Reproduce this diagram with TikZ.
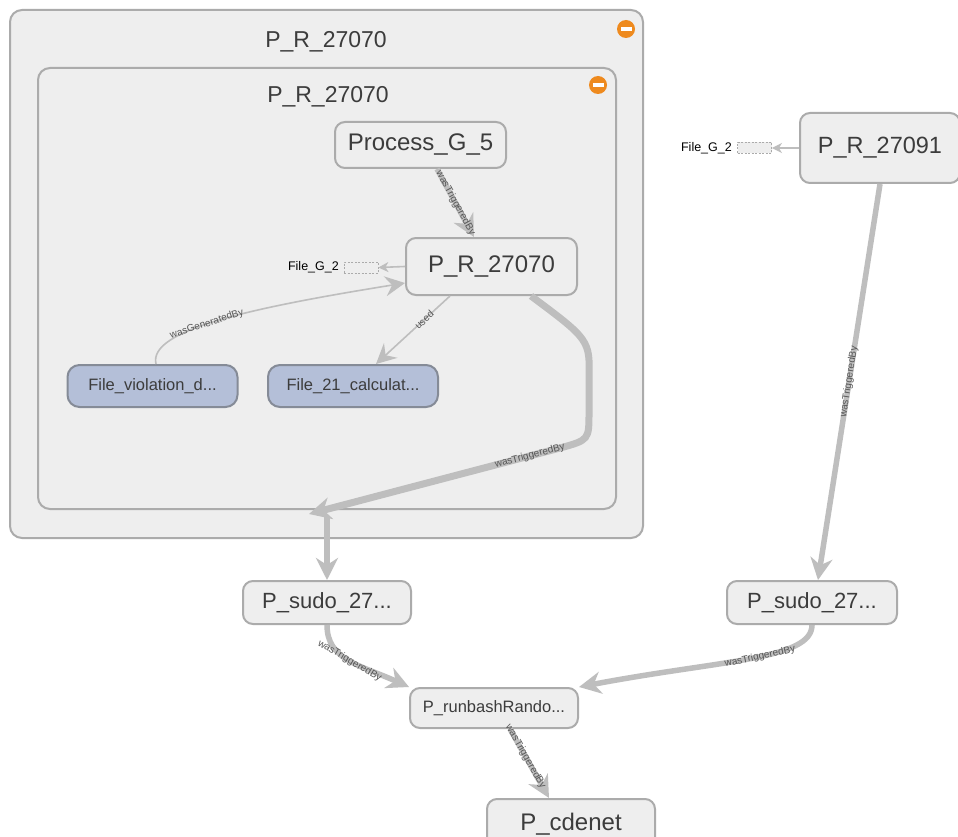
\documentclass[tikz,border=0pt]{standalone}
\usepackage{fontspec}
\setmainfont{Liberation Sans}
\usetikzlibrary{arrows.meta}
\definecolor{boxfill}{HTML}{EEEEEE}
\definecolor{boxline}{HTML}{ABABAB}
\definecolor{edgegray}{HTML}{BEBEBE}
\definecolor{filefill}{HTML}{B4BFD8}
\definecolor{fileline}{HTML}{858B97}
\definecolor{iconorange}{HTML}{EE8A1E}
\definecolor{labelgray}{HTML}{555555}
\definecolor{textgray}{HTML}{3C3C3C}

\tikzset{
  cluster/.style={draw=boxline, line width=2pt, fill=boxfill, rounded corners=12pt, inner sep=0pt},
  proc/.style={draw=boxline, line width=2pt, fill=boxfill, rounded corners=10pt, inner sep=0pt,
    text=textgray},
  filenode/.style={draw=fileline, line width=2pt, fill=filefill, rounded corners=12pt, inner sep=0pt,
    minimum width=170pt, minimum height=42pt, text=textgray, font=\fontsize{16.5}{18}\selectfont},
  ghost/.style={draw=boxline, dash pattern=on 2pt off 1.5pt, line width=0.8pt, fill=boxfill,
    minimum width=34pt, minimum height=11pt, inner sep=0pt},
  smalltext/.style={font=\fontsize{12.5}{14}\selectfont, text=black, inner sep=0pt},
  collapse/.style={circle, fill=iconorange, minimum size=18pt, inner sep=0pt},
  thick edge/.style={draw=edgegray, line width=5.5pt, -{Stealth[length=22pt,width=22pt,inset=7pt]}},
  thin edge/.style={draw=edgegray, line width=1.6pt, -{Stealth[length=20pt,width=20pt,inset=7pt]}},
  tiny edge/.style={draw=edgegray, line width=1.6pt, -{Stealth[length=10pt,width=10pt,inset=3pt]}},
  edgelabel/.style={font=\fontsize{10}{11}\selectfont, text=labelgray, inner sep=0pt, sloped}
}

\begin{document}
\begin{tikzpicture}[x=1pt,y=-1pt]
\clip (0,0) rectangle (958,837);
\fill[white] (0,0) rectangle (958,837);

% clusters
\node[cluster, minimum width=633pt, minimum height=528pt] (outerbox) at (326.5,274) {};
\node[font=\fontsize{23}{25}\selectfont, text=textgray] (outertitle) at (326,42) {P\_R\_27070};
\node[collapse] (outericon) at (626,29) {};
\fill[white] (620.5,27.4) rectangle (631.5,30.6);
\node[cluster, minimum width=578pt, minimum height=441pt] (innerbox) at (327,288.5) {};
\node[font=\fontsize{23}{25}\selectfont, text=textgray] (innertitle) at (328,97) {P\_R\_27070};
\node[collapse] (innericon) at (598,85) {};
\fill[white] (592.5,83.4) rectangle (603.5,86.6);

% process nodes
\node[proc, minimum width=171pt, minimum height=46pt, font=\fontsize{24}{26}\selectfont] (procg) at (420.5,145) {Process\_G\_5};
\node[proc, minimum width=171pt, minimum height=57pt, font=\fontsize{24}{26}\selectfont] (prr) at (491.5,266.5) {P\_R\_27070};
\node[filenode] (fviol) at (152.5,386) {File\_violation\_d...};
\node[filenode] (fcalc) at (353,386) {File\_21\_calculat...};
\node[ghost] (ghostA) at (361,267.5) {};
\node[smalltext, anchor=east] (fileA) at (339,267.5) {File\_G\_2};

\node[proc, minimum width=160pt, minimum height=70pt, font=\fontsize{23.5}{25}\selectfont] (prb) at (880,148) {P\_R\_27091};
\node[ghost] (ghostB) at (754.5,148) {};
\node[smalltext, anchor=east] (fileB) at (732,148) {File\_G\_2};

\node[proc, minimum width=168pt, minimum height=43pt, font=\fontsize{22}{24}\selectfont] (sudoA) at (327,602.5) {P\_sudo\_27...};
\node[proc, minimum width=170pt, minimum height=43pt, font=\fontsize{22}{24}\selectfont] (sudoB) at (812,602.5) {P\_sudo\_27...};
\node[proc, minimum width=168pt, minimum height=40pt, font=\fontsize{16.5}{18}\selectfont] (runbash) at (494,708) {P\_runbashRando...};
\node[proc, minimum width=168pt, minimum height=50pt, font=\fontsize{24}{26}\selectfont] (cdenet) at (571,824) {P\_cdenet};

\coordinate (clusterin) at (309,514);
\coordinate (clusterout) at (327,516);

% edges
\draw[thick edge] (procg.south -| 437,0) -- (prr.north -| 474,0) node[edgelabel, midway] {wasTriggeredBy};
\draw[tiny edge] (prr.west) -- (ghostA.east);
\draw[tiny edge] (prb.west) -- (ghostB.east);
\draw[thin edge] (fviol.north -| 156,0) .. controls (148,330) and (250,308) .. (prr.west |- 0,283)
  node[edgelabel, pos=0.45] {wasGeneratedBy};
\draw[thin edge] (prr.south -| 450,0) -- (fcalc.north -| 376,0) node[edgelabel, pos=0.35] {used};
\draw[thick edge, line width=7pt] (prr.south -| 531,0) .. controls (590,340) .. (589,380) -- (589,412)
  .. controls (589,440) .. (560,448) -- (clusterin)
  node[edgelabel, pos=0.12] {wasTriggeredBy};
\draw[thick edge, line width=6pt] (clusterout) -- (sudoA.north);
\draw[thick edge] (prb.south) -- (sudoB.north -| 818,0) node[edgelabel, midway] {wasTriggeredBy};
\draw[thick edge] (sudoA.south) .. controls (327,660) and (360,665) .. (runbash.north west)
  node[edgelabel, pos=0.5] {wasTriggeredBy};
\draw[thick edge] (sudoB.south) .. controls (812,660) and (720,660) .. (runbash.north east)
  node[edgelabel, pos=0.45] {wasTriggeredBy};
\draw[thick edge] (runbash.south -| 510,0) -- (cdenet.north -| 549,0) node[edgelabel, pos=0.4] {wasTriggeredBy};
\end{tikzpicture}
\end{document}
